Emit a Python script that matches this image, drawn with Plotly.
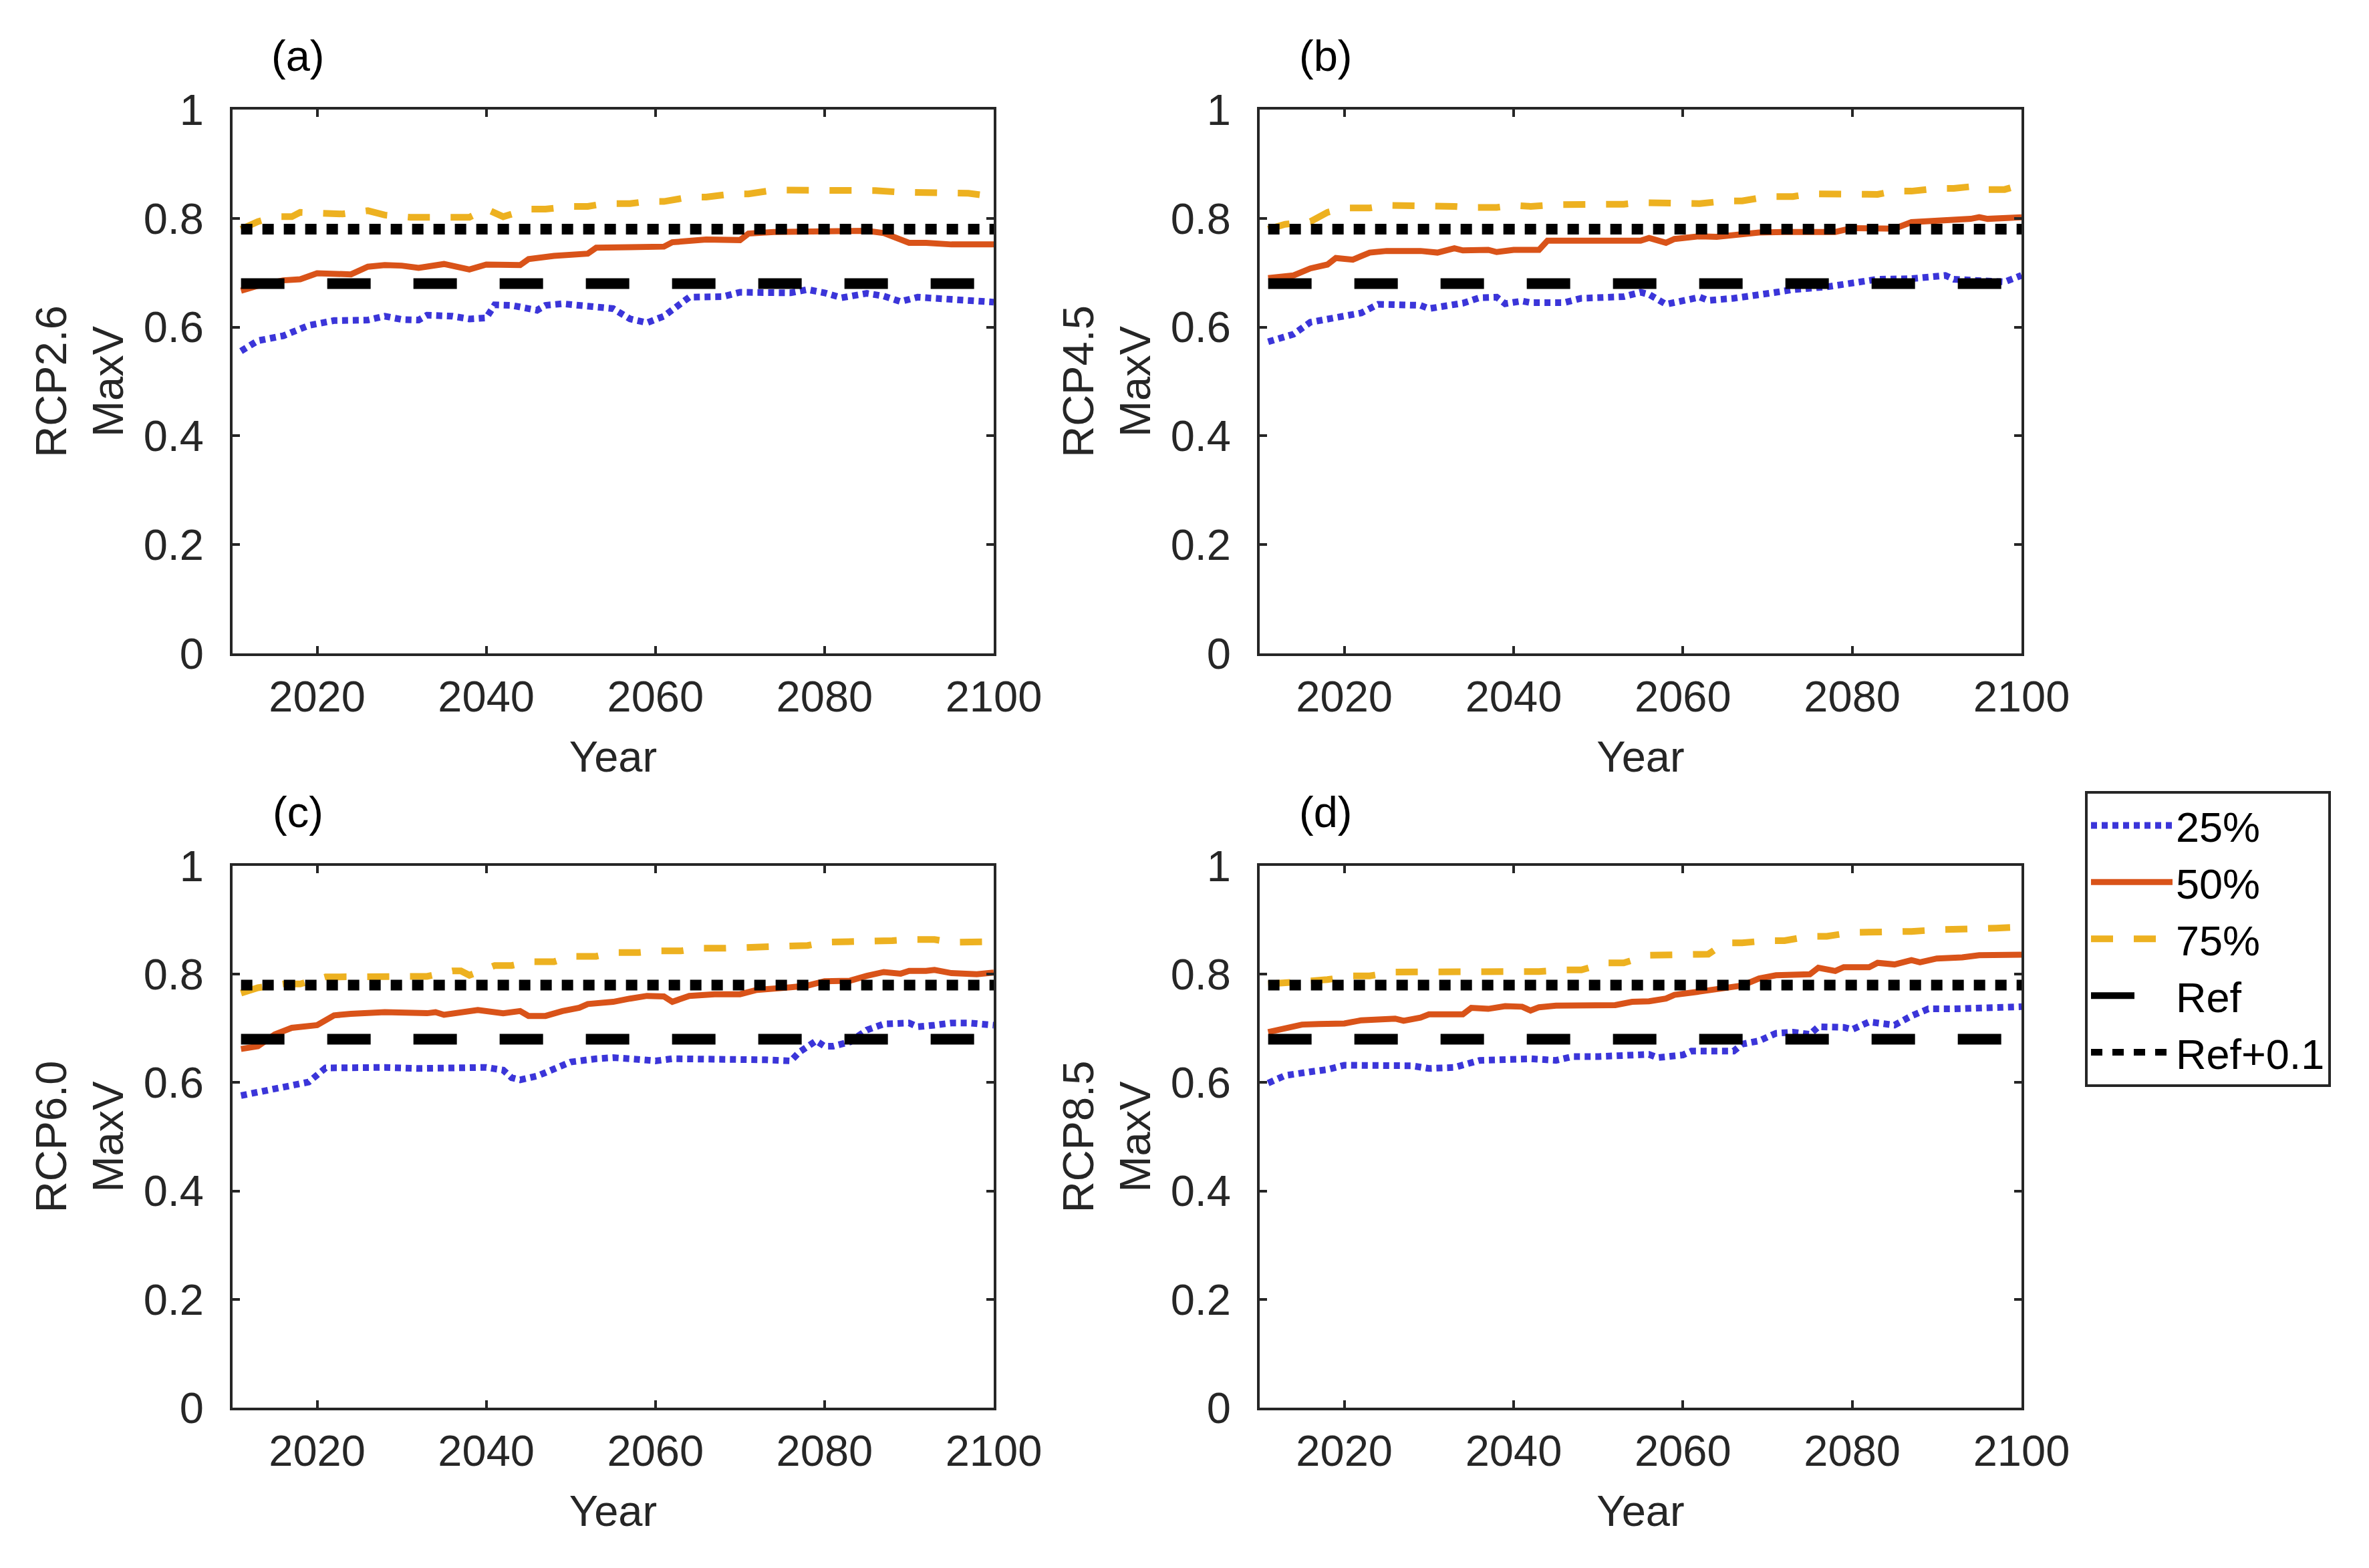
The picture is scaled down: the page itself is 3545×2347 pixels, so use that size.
import plotly.graph_objects as go

# ---------------- data ----------------
panel_labels = ["(a)", "(b)", "(c)", "(d)"]
scenarios = ["RCP2.6", "RCP4.5", "RCP6.0", "RCP8.5"]
series_names = ["25%", "50%", "75%", "Ref", "Ref+0.1"]
x_ticks = [2020, 2040, 2060, 2080, 2100]
y_ticks = [0, 0.2, 0.4, 0.6, 0.8, 1]
ref_years = [2011, 2100]
ref_value = 0.68
ref_offset = 0.1

# (a) RCP2.6
a_p25_years = [2011, 2013, 2016, 2019, 2022, 2026, 2028, 2030, 2032, 2033, 2036, 2038, 2040, 2041, 2043, 2046, 2047, 2049, 2053, 2055, 2057, 2059, 2061, 2064, 2068, 2070, 2076, 2078, 2080, 2082, 2085, 2087, 2089, 2091, 2095, 2100]
a_p25 = [.556, .575, .584, .603, .612, .613, .620, .614, .613, .622, .620, .615, .617, .641, .640, .631, .640, .643, .637, .634, .615, .608, .620, .655, .656, .664, .663, .669, .663, .654, .662, .657, .647, .655, .651, .646]
a_p50_years = [2011, 2013, 2016, 2018, 2020, 2024, 2026, 2028, 2030, 2032, 2035, 2038, 2040, 2044, 2045, 2048, 2052, 2053, 2057, 2059, 2061, 2062, 2065, 2066, 2070, 2071, 2074, 2079, 2085, 2087, 2090, 2092, 2095, 2100]
a_p50 = [.667, .676, .686, .688, .699, .697, .711, .714, .713, .709, .716, .706, .715, .714, .725, .731, .735, .746, .747, .748, .748, .756, .758, .761, .760, .772, .775, .775, .777, .773, .755, .755, .752, .752]
a_p75_years = [2011, 2013, 2015, 2017, 2018, 2021, 2023, 2026, 2028, 2031, 2033, 2036, 2038, 2040, 2042, 2045, 2047, 2050, 2052, 2054, 2057, 2059, 2061, 2064, 2066, 2069, 2071, 2074, 2076, 2079, 2081, 2084, 2086, 2089, 2092, 2094, 2097, 2100]
a_p75 = [.780, .794, .803, .803, .811, .808, .808, .814, .806, .802, .802, .802, .802, .817, .803, .817, .817, .822, .822, .827, .827, .831, .831, .839, .839, .845, .845, .852, .852, .851, .851, .851, .851, .848, .848, .846, .846, .840]

# (b) RCP4.5
b_p25_years = [2011, 2014, 2016, 2019, 2022, 2024, 2029, 2030, 2034, 2036, 2038, 2039, 2041, 2042, 2046, 2048, 2053, 2055, 2056, 2058, 2060, 2062, 2063, 2066, 2071, 2073, 2077, 2080, 2083, 2087, 2091, 2092, 2096, 2098, 2100]
b_p25 = [.573, .587, .609, .616, .626, .642, .640, .634, .644, .654, .655, .643, .648, .645, .645, .653, .656, .664, .660, .642, .648, .655, .649, .653, .664, .669, .674, .680, .688, .689, .695, .688, .684, .683, .695]
b_p50_years = [2011, 2014, 2016, 2018, 2019, 2021, 2023, 2025, 2029, 2031, 2033, 2034, 2037, 2038, 2040, 2043, 2044, 2053, 2055, 2056, 2058, 2059, 2062, 2064, 2066, 2069, 2072, 2078, 2080, 2085, 2087, 2091, 2094, 2095, 2096, 2100]
b_p50 = [.690, .695, .708, .715, .727, .724, .737, .740, .740, .737, .745, .741, .742, .738, .742, .742, .759, .758, .759, .764, .755, .762, .767, .766, .770, .774, .775, .775, .782, .781, .793, .795, .799, .802, .799, .802]
b_p75_years = [2011, 2013, 2016, 2018, 2020, 2023, 2025, 2028, 2030, 2033, 2035, 2038, 2040, 2042, 2045, 2047, 2050, 2053, 2055, 2057, 2060, 2062, 2065, 2067, 2070, 2073, 2075, 2077, 2080, 2083, 2085, 2087, 2090, 2092, 2095, 2096, 2098, 2100]
b_p75 = [.780, .789, .794, .811, .819, .819, .824, .824, .822, .822, .820, .820, .824, .822, .825, .825, .826, .826, .829, .829, .827, .827, .832, .832, .840, .840, .845, .845, .844, .844, .850, .850, .855, .855, .860, .853, .853, .862]

# (c) RCP6.0
c_p25_years = [2011, 2013, 2016, 2019, 2021, 2024, 2028, 2032, 2035, 2037, 2040, 2042, 2043, 2044, 2046, 2048, 2050, 2053, 2055, 2057, 2060, 2062, 2068, 2071, 2073, 2076, 2077, 2079, 2080, 2081, 2083, 2085, 2087, 2090, 2091, 2093, 2095, 2097, 2100]
c_p25 = [.576, .582, .589, .601, .627, .628, .628, .626, .627, .630, .628, .623, .609, .605, .612, .625, .638, .644, .646, .644, .640, .644, .644, .641, .642, .640, .656, .677, .667, .667, .675, .697, .708, .710, .703, .706, .710, .710, .706]
c_p50_years = [2011, 2013, 2015, 2017, 2020, 2022, 2024, 2028, 2033, 2034, 2035, 2037, 2039, 2042, 2044, 2045, 2047, 2049, 2051, 2052, 2055, 2057, 2059, 2061, 2062, 2064, 2067, 2070, 2072, 2076, 2078, 2080, 2083, 2085, 2087, 2089, 2090, 2092, 2093, 2095, 2098, 2100]
c_p50 = [.662, .667, .689, .701, .706, .724, .727, .730, .728, .730, .725, .730, .734, .728, .732, .723, .723, .732, .738, .745, .749, .755, .760, .759, .749, .760, .763, .763, .771, .776, .779, .787, .788, .797, .804, .801, .806, .806, .808, .802, .800, .803]
c_p75_years = [2011, 2013, 2016, 2018, 2021, 2023, 2026, 2028, 2031, 2033, 2036, 2037, 2038, 2041, 2043, 2045, 2048, 2050, 2053, 2055, 2058, 2060, 2063, 2065, 2068, 2070, 2073, 2075, 2078, 2080, 2083, 2085, 2088, 2090, 2093, 2095, 2098, 2100]
c_p75 = [.765, .775, .782, .782, .795, .795, .798, .798, .796, .796, .806, .806, .798, .816, .816, .823, .823, .833, .833, .840, .840, .843, .843, .848, .848, .849, .849, .853, .853, .859, .859, .862, .862, .864, .864, .859, .859, .860]

# (d) RCP8.5
d_p25_years = [2011, 2013, 2016, 2018, 2020, 2024, 2027, 2028, 2030, 2033, 2036, 2040, 2042, 2045, 2047, 2050, 2054, 2056, 2057, 2060, 2061, 2066, 2067, 2069, 2071, 2073, 2075, 2076, 2079, 2080, 2082, 2084, 2085, 2087, 2088, 2089, 2092, 2100]
d_p25 = [.599, .613, .620, .624, .632, .632, .633, .631, .626, .628, .641, .642, .644, .641, .648, .648, .650, .652, .646, .651, .658, .658, .671, .677, .691, .693, .689, .703, .702, .698, .712, .710, .706, .723, .728, .736, .736, .740]
d_p50_years = [2011, 2013, 2015, 2017, 2020, 2022, 2024, 2026, 2027, 2029, 2030, 2034, 2035, 2037, 2039, 2041, 2042, 2043, 2045, 2052, 2054, 2056, 2058, 2059, 2062, 2065, 2067, 2069, 2071, 2075, 2076, 2078, 2079, 2082, 2083, 2085, 2087, 2088, 2090, 2093, 2095, 2100]
d_p50 = [.693, .701, .707, .708, .709, .715, .717, .718, .714, .720, .726, .726, .738, .736, .741, .740, .733, .739, .742, .743, .749, .750, .755, .762, .768, .775, .779, .792, .798, .800, .812, .806, .813, .813, .821, .818, .826, .822, .829, .831, .835, .836]
d_p75_years = [2011, 2013, 2016, 2018, 2021, 2023, 2026, 2028, 2031, 2033, 2036, 2038, 2041, 2043, 2046, 2048, 2051, 2053, 2056, 2058, 2060, 2063, 2065, 2067, 2070, 2072, 2075, 2077, 2080, 2082, 2085, 2087, 2090, 2092, 2095, 2097, 2100]
d_p75 = [.782, .784, .790, .790, .797, .797, .804, .804, .805, .805, .803, .803, .805, .805, .808, .808, .821, .821, .835, .835, .837, .837, .858, .858, .862, .862, .870, .870, .877, .877, .879, .879, .882, .882, .885, .885, .887]

panels = [
    (a_p25_years, a_p25, a_p50_years, a_p50, a_p75_years, a_p75),
    (b_p25_years, b_p25, b_p50_years, b_p50, b_p75_years, b_p75),
    (c_p25_years, c_p25, c_p50_years, c_p50, c_p75_years, c_p75),
    (d_p25_years, d_p25, d_p50_years, d_p50, d_p75_years, d_p75),
]

# ---------------- styling ----------------
W, H = 3545, 2347
FONT = "Liberation Sans, Arial, sans-serif"
FS = 65
AXC = "#262626"
styles = [
    dict(color="#3B35D9", width=10, dash="9px,7px"),
    dict(color="#D95319", width=9, dash="solid"),
    dict(color="#EDB120", width=10, dash="33px,31px"),
    dict(color="#000000", width=16, dash="65px,64px"),
    dict(color="#000000", width=16, dash="17px,15px"),
]

def px_x(a, b):
    return [a / W, b / W]

def px_y(top, bottom):
    return [1 - bottom / H, 1 - top / H]

x_domains = [px_x(340, 1479), px_x(1877, 3017), px_x(340, 1479), px_x(1877, 3017)]
y_domains = [px_y(156, 970), px_y(156, 970), px_y(1288, 2099), px_y(1288, 2099)]

fig = go.Figure()
for i, (x25, y25, x50, y50, x75, y75) in enumerate(panels):
    xa = "x" if i == 0 else f"x{i+1}"
    ya = "y" if i == 0 else f"y{i+1}"
    data = [
        (x25, y25),
        (x50, y50),
        (x75, y75),
        (ref_years, [ref_value] * len(ref_years)),
        (ref_years, [ref_value + ref_offset] * len(ref_years)),
    ]
    for name, st, (xs, ys) in zip(series_names, styles, data):
        fig.add_trace(go.Scatter(
            x=xs, y=ys, mode="lines", name=name, line=st,
            xaxis=xa, yaxis=ya, showlegend=(i == 0), hoverinfo="skip",
        ))

axis_common = dict(
    showline=True, linecolor=AXC, linewidth=4, mirror="ticks",
    ticks="inside", ticklen=11, tickwidth=4, tickcolor=AXC,
    showgrid=False, zeroline=False, automargin=False,
    tickfont=dict(family=FONT, size=FS, color=AXC),
)

layout = dict(
    template="none",
    width=W, height=H,
    margin=dict(l=0, r=0, t=0, b=0, pad=0, autoexpand=False),
    paper_bgcolor="white", plot_bgcolor="white",
    font=dict(family=FONT, size=FS, color=AXC),
    showlegend=True,
    legend=dict(
        x=3112 / W, y=1 - 1176 / H, xanchor="left", yanchor="top",
        bordercolor=AXC, borderwidth=4, bgcolor="white",
        font=dict(family=FONT, size=63, color="#000000"),
        itemwidth=122, tracegroupgap=0,
    ),
    annotations=[],
)

for i in range(4):
    xk = "xaxis" if i == 0 else f"xaxis{i+1}"
    yk = "yaxis" if i == 0 else f"yaxis{i+1}"
    ya = "y" if i == 0 else f"y{i+1}"
    xa = "x" if i == 0 else f"x{i+1}"
    layout[xk] = dict(
        axis_common, domain=x_domains[i], range=[2010, 2100], anchor=ya,
        tickvals=x_ticks, ticklabelstandoff=5,
        title=dict(text="Year", font=dict(family=FONT, size=FS, color=AXC), standoff=32),
    )
    layout[yk] = dict(
        axis_common, domain=y_domains[i], range=[0, 1], anchor=xa,
        tickvals=y_ticks, ticklabelstandoff=26,
        title=dict(text=f"{scenarios[i]}<br>MaxV", font=dict(family=FONT, size=FS, color=AXC), standoff=10),
    )
    layout["annotations"].append(dict(
        text=panel_labels[i], showarrow=False,
        xref=f"{xa} domain", yref=f"{ya} domain",
        x=0.086, y=1.099, xanchor="center", yanchor="middle",
        font=dict(family=FONT, size=FS, color="#000000"),
    ))

fig.update_layout(**layout)
fig.write_html("out.html")
